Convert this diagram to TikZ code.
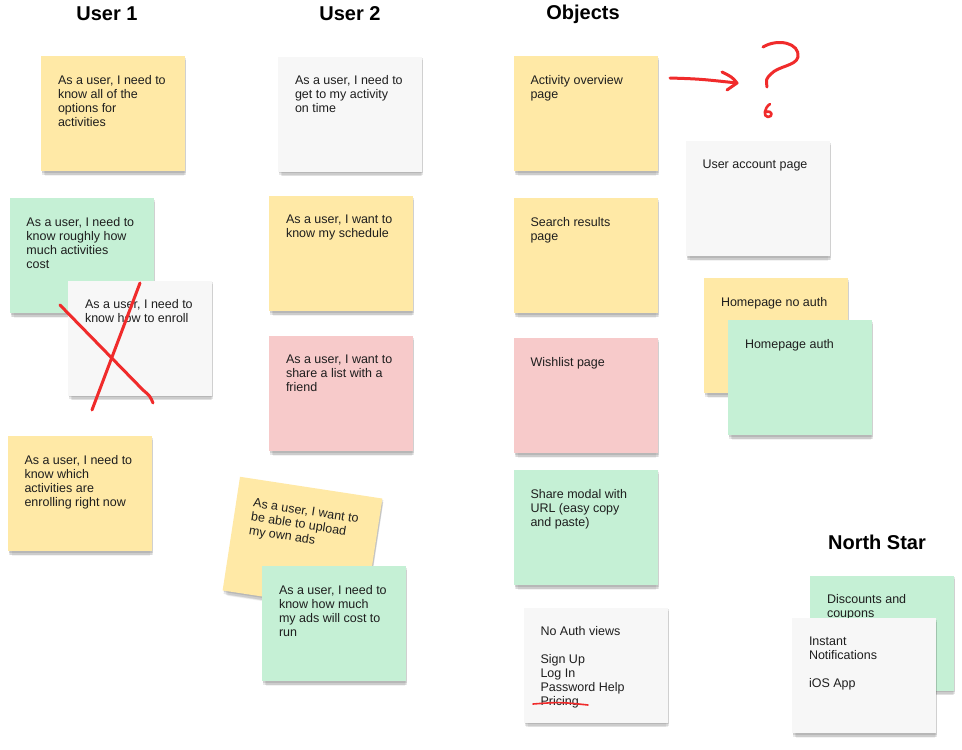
\documentclass[tikz,border=0pt]{standalone}
\usepackage{fontspec}
\setmainfont{Liberation Sans}
\usetikzlibrary{shadows,calc}
\definecolor{cyel}{HTML}{FFE9A6}
\definecolor{cgrn}{HTML}{C5F0D5}
\definecolor{cpnk}{HTML}{F7CACA}
\definecolor{cwht}{HTML}{F7F7F7}
\definecolor{ink}{HTML}{F02B2B}
\definecolor{txtc}{HTML}{1E1E1E}
\tikzset{
  sticky/.style={rectangle, inner sep=0pt, minimum width=144pt, minimum height=115pt,
    drop shadow={shadow xshift=1pt, shadow yshift=-1.5pt, opacity=0.10, fill=black},
    drop shadow={shadow xshift=1pt, shadow yshift=-3.5pt, opacity=0.09, fill=black},
    drop shadow={shadow xshift=1.5pt, shadow yshift=-5.5pt, shadow scale=0.98, opacity=0.07, fill=black},
    drop shadow={shadow xshift=1.5pt, shadow yshift=-7.5pt, shadow scale=0.96, opacity=0.05, fill=black}},
  txt/.style={anchor=north west, inner sep=0pt, align=left, text=txtc,
    font=\fontsize{12.5}{14}\selectfont},
  ttl/.style={font=\fontsize{20}{24}\selectfont\bfseries, text=black, inner sep=0pt},
  pen/.style={draw=ink, line width=3pt, line cap=round, line join=round},
}
\begin{document}
\begin{tikzpicture}[x=1pt,y=-1pt]
\useasboundingbox[fill=white] (0,0) rectangle (962,750);
% titles
\node[ttl] (h1) at (107,14) {User 1};
\node[ttl] (h2) at (350,14) {User 2};
\node[ttl] (h3) at (583,14) {Objects};
\node[ttl] (h4) at (877,542) {North Star};
% User 1
\node[sticky, fill=cyel] (s1) at (113,113.5) {};
\node[txt] (t1) at ($(s1.north west)+(17,19)$) {As a user, I need to\\know all of the\\options for\\activities};
\node[sticky, fill=cgrn] (s2) at (81.5,255.5) {};
\node[txt] (t2) at ($(s2.north west)+(17,19)$) {As a user, I need to\\know roughly how\\much activities\\cost};
\node[sticky, fill=cwht] (s3) at (140,338) {};
\node[txt] (t3) at ($(s3.north west)+(17,19)$) {As a user, I need to\\know how to enroll};
\coordinate (xa1) at (92,410);
\coordinate (xa2) at (140,283);
\coordinate (xb1) at (60,305);
\coordinate (xb2) at (143,390);
\coordinate (xb3) at (153,403);
\draw[pen] (xa1) -- (xa2);
\draw[pen] (xb1) -- (xb2) .. controls (150,396) .. (xb3);
\node[sticky, fill=cyel] (s4) at (79.5,493.5) {};
\node[txt] (t4) at ($(s4.north west)+(17,19)$) {As a user, I need to\\know which\\activities are\\enrolling right now};
% User 2
\node[sticky, fill=cwht] (s5) at (350,114) {};
\node[txt] (t5) at ($(s5.north west)+(17,19)$) {As a user, I need to\\get to my activity\\on time};
\node[sticky, fill=cyel] (s6) at (341,253.5) {};
\node[txt] (t6) at ($(s6.north west)+(17,19)$) {As a user, I want to\\know my schedule};
\node[sticky, fill=cpnk] (s7) at (341,393.5) {};
\node[txt] (t7) at ($(s7.north west)+(17,19)$) {As a user, I want to\\share a list with a\\friend};
\begin{scope}[shift={(302.5,544.5)}, rotate=-8.7, transform shape]
\node[sticky, fill=cyel] (s8) at (0,0) {};
\node[txt] (t8) at (-55,-38.5) {As a user, I want to\\be able to upload\\my own ads};
\end{scope}
\node[sticky, fill=cgrn] (s9) at (334,623.5) {};
\node[txt] (t9) at ($(s9.north west)+(17,19)$) {As a user, I need to\\know how much\\my ads will cost to\\run};
% Objects
\node[sticky, fill=cyel] (s10) at (585.5,113.5) {};
\node[txt] (t10) at ($(s10.north west)+(17,19)$) {Activity overview\\page};
\node[sticky, fill=cyel] (s11) at (585.5,255.5) {};
\node[txt] (t11) at ($(s11.north west)+(17,19)$) {Search results\\page};
\node[sticky, fill=cpnk] (s12) at (585.5,395.5) {};
\node[txt] (t12) at ($(s12.north west)+(17,19)$) {Wishlist page};
\node[sticky, fill=cgrn] (s13) at (585.5,527.5) {};
\node[txt] (t13) at ($(s13.north west)+(17,19)$) {Share modal with\\URL (easy copy\\and paste)};
\node[sticky, fill=cwht] (s14) at (595.5,665) {};
\node[txt] (t14) at ($(s14.north west)+(17,19)$) {No Auth views\\[14pt]Sign Up\\Log In\\Password Help\\Pricing};
\coordinate (pr1) at (533,704);
\coordinate (pr2) at (588,705);
\draw[draw=ink, line width=1.6pt, line cap=round] (pr1) .. controls (560,702) .. (pr2);
% right column
\coordinate (ar1) at (670,78);
\coordinate (ar2) at (737,83);
\draw[pen] (ar1) .. controls (700,79) .. (ar2);
\draw[pen] (722,72) .. controls (732,77) .. (ar2) -- (727,90);
\draw[pen] (763,47) .. controls (778,38) and (800,43) .. (798,57)
  .. controls (796,66) and (778,66) .. (771,74) .. controls (766,79) .. (767,87);
\draw[draw=ink, line width=2.6pt, line cap=round, line join=round]
  (770,104) .. controls (764,108) and (763,117) .. (768,117)
  .. controls (773,117) and (773,110) .. (766,112);
\node[sticky, fill=cwht] (s15) at (757.5,198.5) {};
\node[txt] (t15) at ($(s15.north west)+(17,19)$) {User account page};
\node[sticky, fill=cyel] (s16) at (776,335.5) {};
\node[txt] (t16) at ($(s16.north west)+(17,19)$) {Homepage no auth};
\node[sticky, fill=cgrn] (s17) at (800,377.5) {};
\node[txt] (t17) at ($(s17.north west)+(17,19)$) {Homepage auth};
% North star
\node[sticky, fill=cgrn] (s18) at (882,633) {};
\node[txt] (t18) at ($(s18.north west)+(17,19)$) {Discounts and\\coupons};
\node[sticky, fill=cwht] (s19) at (864,675.5) {};
\node[txt] (t19) at ($(s19.north west)+(17,19)$) {Instant\\Notifications\\[14pt]iOS App};
\end{tikzpicture}
\end{document}
